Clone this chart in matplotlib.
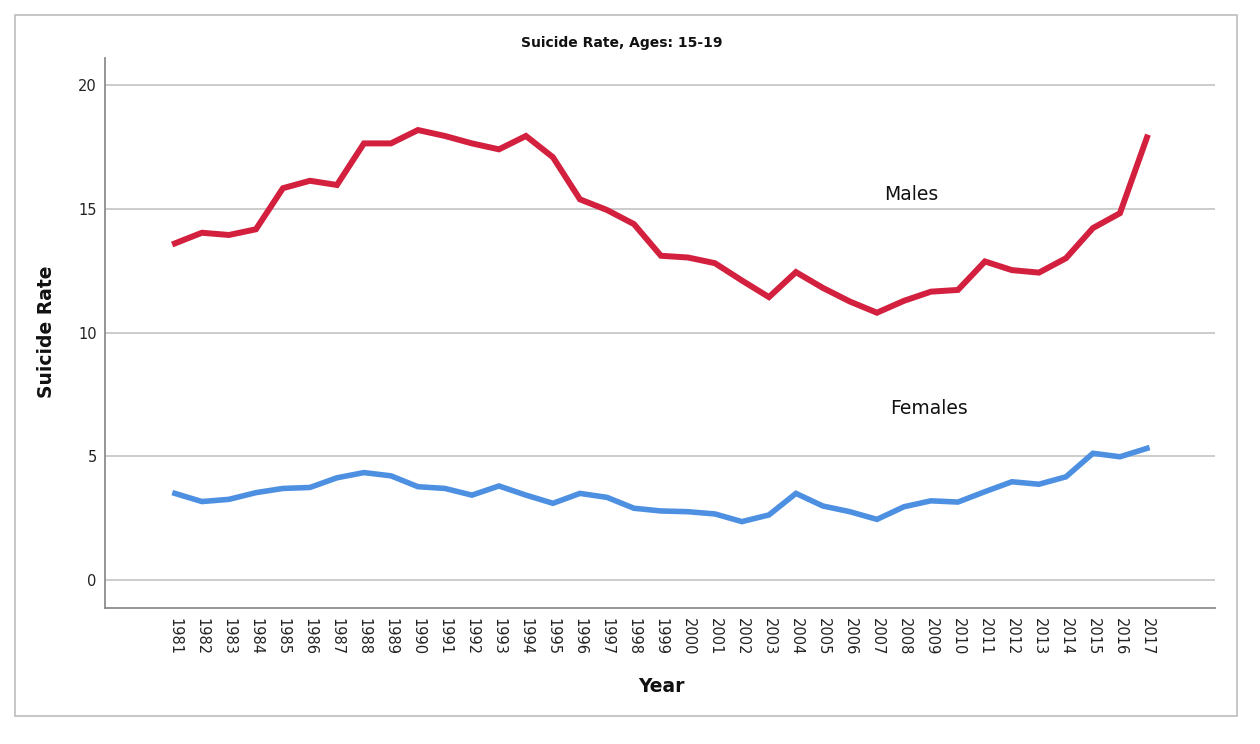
import matplotlib.pyplot as plt
from matplotlib.patches import Rectangle

# Values
years = list(range(1981, 2018))

males = [13.6, 14.03, 13.94, 14.17, 15.83, 16.13, 15.96, 17.64, 17.64, 18.18,
         17.94, 17.64, 17.4, 17.94, 17.08, 15.38, 14.95, 14.38, 13.1, 13.03,
         12.8, 12.1, 11.43, 12.44, 11.8, 11.25, 10.8, 11.28, 11.65, 11.72,
         12.87, 12.52, 12.42, 13.0, 14.22, 14.82, 17.88]

females = [3.5, 3.17, 3.26, 3.53, 3.70, 3.74, 4.13, 4.34, 4.21, 3.77,
           3.70, 3.43, 3.80, 3.43, 3.10, 3.50, 3.34, 2.90, 2.79, 2.76,
           2.67, 2.36, 2.63, 3.50, 2.99, 2.76, 2.45, 2.96, 3.20, 3.15,
           3.57, 3.97, 3.87, 4.17, 5.12, 4.98, 5.32]

y_ticks = [0, 5, 10, 15, 20]

fig = plt.figure(figsize=(12.6, 7.44), dpi=100)
ax = fig.add_axes([105 / 1260, 1 - 608 / 744, 1110 / 1260, 550 / 744])

# Outer frame around the whole chart
fig.patches.append(Rectangle((15 / 1260, 1 - 716 / 744), 1222 / 1260, 701 / 744,
                             transform=fig.transFigure, fill=False,
                             edgecolor='#bdbdbd', linewidth=1.2))

ax.plot(years, males, color='#d2203e', linewidth=4.3, solid_joinstyle='miter', zorder=3)
ax.plot(years, females, color='#4d90e2', linewidth=4.0, solid_joinstyle='miter', zorder=3)

ax.set_xlim(1978.41, 2019.52)
ax.set_ylim(-1.13, 21.09)
ax.set_yticks(y_ticks)
ax.set_xticks(years)
ax.set_xticklabels([str(y) for y in years], rotation=-90, fontsize=10.5)
ax.tick_params(axis='both', length=0, labelsize=10.5, colors='#222222')
ax.tick_params(axis='y', pad=6)
ax.tick_params(axis='x', pad=7)

ax.grid(axis='y', color='#c8c8c8', linewidth=1.3)
ax.set_axisbelow(True)
for side in ['top', 'right']:
    ax.spines[side].set_visible(False)
for side in ['left', 'bottom']:
    ax.spines[side].set_color('#8c8c8c')
    ax.spines[side].set_linewidth(1.3)

ax.text(2008.26, 15.56, 'Males', fontsize=13.5, ha='center', va='center', color='#111111')
ax.text(2008.93, 6.91, 'Females', fontsize=13.5, ha='center', va='center', color='#111111')

fig.text(622 / 1260, 1 - 43 / 744, 'Suicide Rate, Ages: 15-19', fontsize=10,
         fontweight='bold', ha='center', va='center', color='#111111')
fig.text(661 / 1260, 1 - 686 / 744, 'Year', fontsize=13.5, fontweight='bold',
         ha='center', va='center', color='#111111')
fig.text(46 / 1260, 1 - 332 / 744, 'Suicide Rate', fontsize=13.5, fontweight='bold',
         rotation=90, ha='center', va='center', color='#111111')

fig.savefig('out.png', dpi=100)
